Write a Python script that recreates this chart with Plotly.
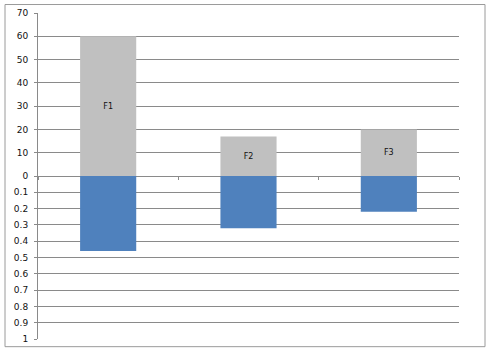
import plotly.graph_objects as go

categories = ["F1", "F2", "F3"]
top_values = [60, 17, 20]
bottom_values = [0.46, 0.32, 0.22]
top_ticks = [0, 10, 20, 30, 40, 50, 60, 70]
bottom_ticks = [0.1, 0.2, 0.3, 0.4, 0.5, 0.6, 0.7, 0.8, 0.9, 1]
bottom_ticktext = ["0.1", "0.2", "0.3", "0.4", "0.5", "0.6", "0.7", "0.8", "0.9", "1"]

W, H = 492, 353
ml, mr, mt, mb = 38, 33, 12.5, 13.7
pw = W - ml - mr
ph = H - mt - mb

fig = go.Figure()
fig.add_trace(go.Bar(
    x=categories, y=top_values, xaxis="x", yaxis="y",
    marker=dict(color="#c0c0c0", line=dict(width=0)), width=0.4,
    text=categories, textposition="inside", insidetextanchor="middle",
    textfont=dict(family="DejaVu Sans", size=8, color="#111111"),
    textangle=0, showlegend=False, hoverinfo="skip",
))
fig.add_trace(go.Bar(
    x=categories, y=bottom_values, xaxis="x", yaxis="y2",
    marker=dict(color="#4f81bd", line=dict(width=0)), width=0.4,
    showlegend=False, hoverinfo="skip",
))

grid = "#8a8a8a"
tickfont = dict(family="DejaVu Sans", size=9, color="#111111")
fig.update_layout(
    template="none",
    width=W, height=H, autosize=False,
    margin=dict(l=ml, r=mr, t=mt, b=mb, pad=0),
    paper_bgcolor="white", plot_bgcolor="white",
    barmode="overlay",
    xaxis=dict(anchor="y", domain=[0, 1], showticklabels=False, automargin=False,
               tickson="boundaries", ticks="outside", ticklen=3, tickcolor=grid,
               showline=True, linecolor=grid, linewidth=1, showgrid=False,
               zeroline=False),
    yaxis=dict(domain=[0.5, 1], range=[0, 70], tickvals=top_ticks, automargin=False,
               showgrid=True, gridcolor=grid, gridwidth=1, zeroline=False,
               showline=True, linecolor=grid, ticks="outside", ticklen=3,
               tickcolor=grid, tickfont=tickfont, ticklabelstandoff=4),
    yaxis2=dict(domain=[0, 0.5], range=[1, 0], tickvals=bottom_ticks, automargin=False,
                ticktext=bottom_ticktext, anchor="x",
                showgrid=True, gridcolor=grid, gridwidth=1, zeroline=False,
                showline=True, linecolor=grid, ticks="outside", ticklen=3,
                tickcolor=grid, tickfont=tickfont, ticklabelstandoff=4),
)

# outer chart border
x0 = (5 - ml) / pw
x1 = (485 - ml) / pw
y1 = 1 + (mt - 4) / ph
y0 = ((H - mb) - 347) / ph
fig.add_shape(type="rect", xref="paper", yref="paper", x0=x0, x1=x1, y0=y0, y1=y1,
              line=dict(color="#9a9a9a", width=1), fillcolor="rgba(0,0,0,0)", layer="below")

fig.write_html("out.html")
